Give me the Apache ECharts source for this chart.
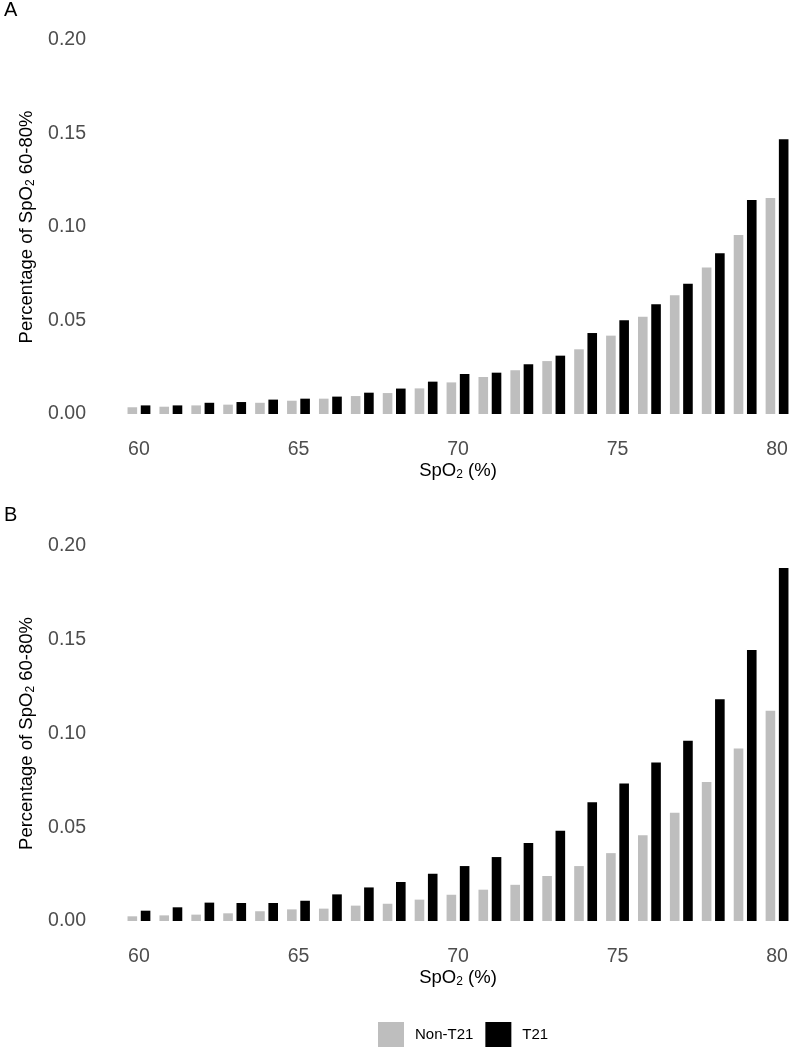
<!DOCTYPE html>
<html>
<head>
<meta charset="utf-8">
<script src="https://cdn.jsdelivr.net/npm/echarts@6/dist/echarts.min.js"></script>
<style>
  html, body { margin: 0; padding: 0; background: #fff; }
  #main { width: 793px; height: 1050px; }
</style>
</head>
<body>
<div id="main"></div>
<script>
const spo2 = ["60", "61", "62", "63", "64", "65", "66", "67", "68", "69", "70",
  "71", "72", "73", "74", "75", "76", "77", "78", "79", "80"];
const yTicks = [0, 0.05, 0.1, 0.15, 0.2];

// panel A
const nonT21A = [0.0036, 0.0039, 0.0046, 0.005, 0.006, 0.0071, 0.0082, 0.0096, 0.0112, 0.0137, 0.0169,
  0.0198, 0.0234, 0.0283, 0.0346, 0.0419, 0.052, 0.0635, 0.0784, 0.0957, 0.1155];
const t21A = [0.0046, 0.0046, 0.006, 0.0064, 0.0077, 0.0082, 0.0093, 0.0114, 0.0136, 0.0173, 0.0214,
  0.0221, 0.0266, 0.0312, 0.0433, 0.0501, 0.0587, 0.0697, 0.0859, 0.1144, 0.1469];

// panel B
const nonT21B = [0.0025, 0.003, 0.0034, 0.0041, 0.0052, 0.0062, 0.0066, 0.0082, 0.0092, 0.0114, 0.014,
  0.0167, 0.0193, 0.024, 0.0293, 0.0362, 0.0458, 0.0577, 0.0742, 0.092, 0.1121];
const t21B = [0.0055, 0.0073, 0.0098, 0.0096, 0.0096, 0.0108, 0.0142, 0.0179, 0.0208, 0.0252, 0.0293,
  0.0341, 0.0416, 0.0481, 0.0633, 0.0734, 0.0846, 0.0961, 0.1183, 0.1445, 0.1883];

const font = "Liberation Sans, Arial, sans-serif";
const grey = "#bebebe";
const subStyle = { sub: { fontFamily: font, fontSize: 12, verticalAlign: "bottom", padding: [9, 0, 0, 0] } };

const grids = [
  { left: 123, width: 671, top: 40, height: 374 },
  { left: 123, width: 671, top: 546, height: 375 },
];

const xAxisFor = (gridIndex) => ({
  type: "category",
  gridIndex,
  data: spo2,
  axisLine: { show: false },
  axisTick: { show: false },
  axisLabel: {
    interval: 4,
    margin: 26,
    fontFamily: font,
    fontSize: 19.5,
    color: "#4d4d4d",
  },
  name: "SpO{sub|2} (%)",
  nameLocation: "middle",
  nameGap: 46,
  nameTextStyle: { fontFamily: font, fontSize: 18.5, color: "#000", rich: subStyle },
});

const yAxisFor = (gridIndex) => ({
  type: "value",
  gridIndex,
  min: yTicks[0],
  max: yTicks[yTicks.length - 1],
  interval: 0.05,
  splitLine: { show: false },
  axisLine: { show: false },
  axisTick: { show: false },
  axisLabel: {
    margin: 37,
    fontFamily: font,
    fontSize: 19.5,
    color: "#4d4d4d",
    formatter: (v) => v.toFixed(2),
  },
  name: "Percentage of SpO{sub|2} 60-80%",
  nameLocation: "middle",
  nameGap: 80,
  nameTextStyle: { fontFamily: font, fontSize: 18.5, color: "#000", rich: subStyle },
});

const barSeries = (name, data, idx, color) => ({
  name,
  type: "bar",
  xAxisIndex: idx,
  yAxisIndex: idx,
  data,
  barWidth: 9.6,
  barGap: "38%",
  itemStyle: { color },
  silent: true,
});

const myChart = echarts.init(document.getElementById("main"));

myChart.setOption({
  animation: false,
  backgroundColor: "#fff",
  title: [
    { text: "A", left: 4, top: 0, padding: 0, textStyle: { fontFamily: font, fontSize: 20, fontWeight: "normal", color: "#000" } },
    { text: "B", left: 4, top: 505, padding: 0, textStyle: { fontFamily: font, fontSize: 20, fontWeight: "normal", color: "#000" } },
  ],
  legend: {
    data: ["Non-T21", "T21"],
    left: 378,
    top: 1022,
    padding: 0,
    icon: "rect",
    itemWidth: 26,
    itemHeight: 25,
    itemGap: 12,
    textStyle: { fontFamily: font, fontSize: 15, color: "#000", padding: [0, 0, 0, 6] },
  },
  grid: grids,
  xAxis: [xAxisFor(0), xAxisFor(1)],
  yAxis: [yAxisFor(0), yAxisFor(1)],
  series: [
    barSeries("Non-T21", nonT21A, 0, grey),
    barSeries("T21", t21A, 0, "#000"),
    barSeries("Non-T21", nonT21B, 1, grey),
    barSeries("T21", t21B, 1, "#000"),
  ],
});
</script>
</body>
</html>
